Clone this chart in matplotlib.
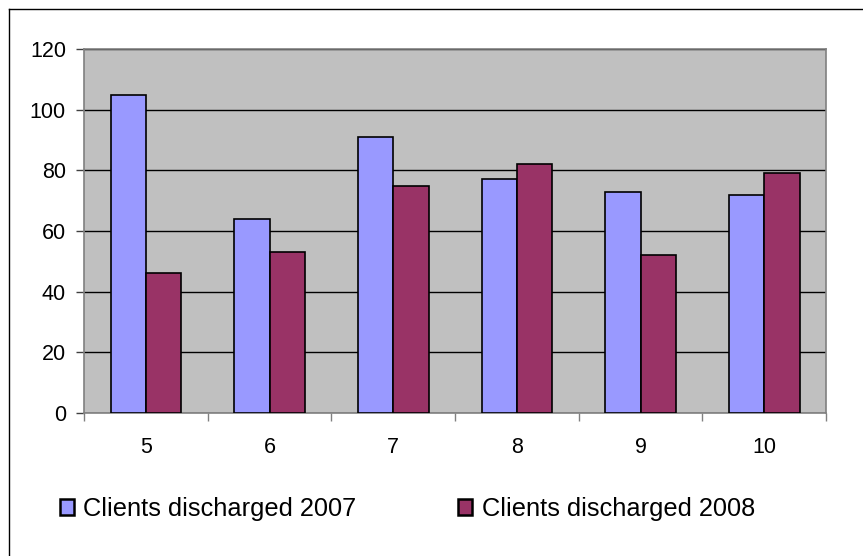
import numpy as np
import matplotlib
matplotlib.use("Agg")
import matplotlib.pyplot as plt
from matplotlib.lines import Line2D

plt.rcParams['font.family'] = ['Liberation Sans', 'DejaVu Sans']

# data
categories = ['5', '6', '7', '8', '9', '10']
discharged_2007 = [105, 64, 91, 77, 73, 72]
discharged_2008 = [46, 53, 75, 82, 52, 79]
y_ticks = [0, 20, 40, 60, 80, 100, 120]

fig = plt.figure(figsize=(8.63, 5.56), dpi=100)
ax = fig.add_axes([84/863, 1 - 413/556, (826-84)/863, (413-49)/556])
ax.set_facecolor('#C0C0C0')

x = np.arange(len(categories))
w = 1/3.5
b1 = ax.bar(x - w/2, discharged_2007, w, color='#9999FF', edgecolor='black',
            linewidth=1.2, label='Clients discharged 2007', zorder=3)
b2 = ax.bar(x + w/2, discharged_2008, w, color='#993366', edgecolor='black',
            linewidth=1.2, label='Clients discharged 2008', zorder=3)

ax.set_ylim(0, 120)
ax.set_xlim(-0.5, len(categories) - 0.5)
ax.set_yticks(y_ticks)
ax.yaxis.grid(True, color='black', linewidth=1.0, zorder=1)
ax.set_axisbelow(True)

ax.set_xticks(x)
ax.set_xticklabels(categories)
ax.set_xticks(np.arange(len(categories) + 1) - 0.5, minor=True)
ax.tick_params(axis='x', which='major', length=0, pad=17, labelsize=15.5)
ax.tick_params(axis='x', which='minor', length=6, width=1, color='#808080', direction='out')
ax.tick_params(axis='y', length=6, width=1, color='#404040', pad=7, labelsize=15.5)

for s in ax.spines.values():
    s.set_color('#808080')
    s.set_linewidth(1.2)

leg = fig.legend(handles=[b1, b2], loc='center left',
                 bbox_to_anchor=(60/863, 1 - 509/556), ncol=2, frameon=False,
                 fontsize=18.3, handlelength=0.56, handleheight=0.56,
                 handletextpad=0.36, columnspacing=4.0, borderpad=0, borderaxespad=0)
for h in leg.legend_handles:
    h.set_linewidth(1.8)

# outer chart border (left and top only are visible)
fig.add_artist(Line2D([8.5/863, 8.5/863], [0, 1 - 9/556], transform=fig.transFigure,
                      color='black', linewidth=1.0))
fig.add_artist(Line2D([8.5/863, 1], [1 - 9/556, 1 - 9/556], transform=fig.transFigure,
                      color='black', linewidth=1.0))

fig.savefig('out.png', dpi=100)
